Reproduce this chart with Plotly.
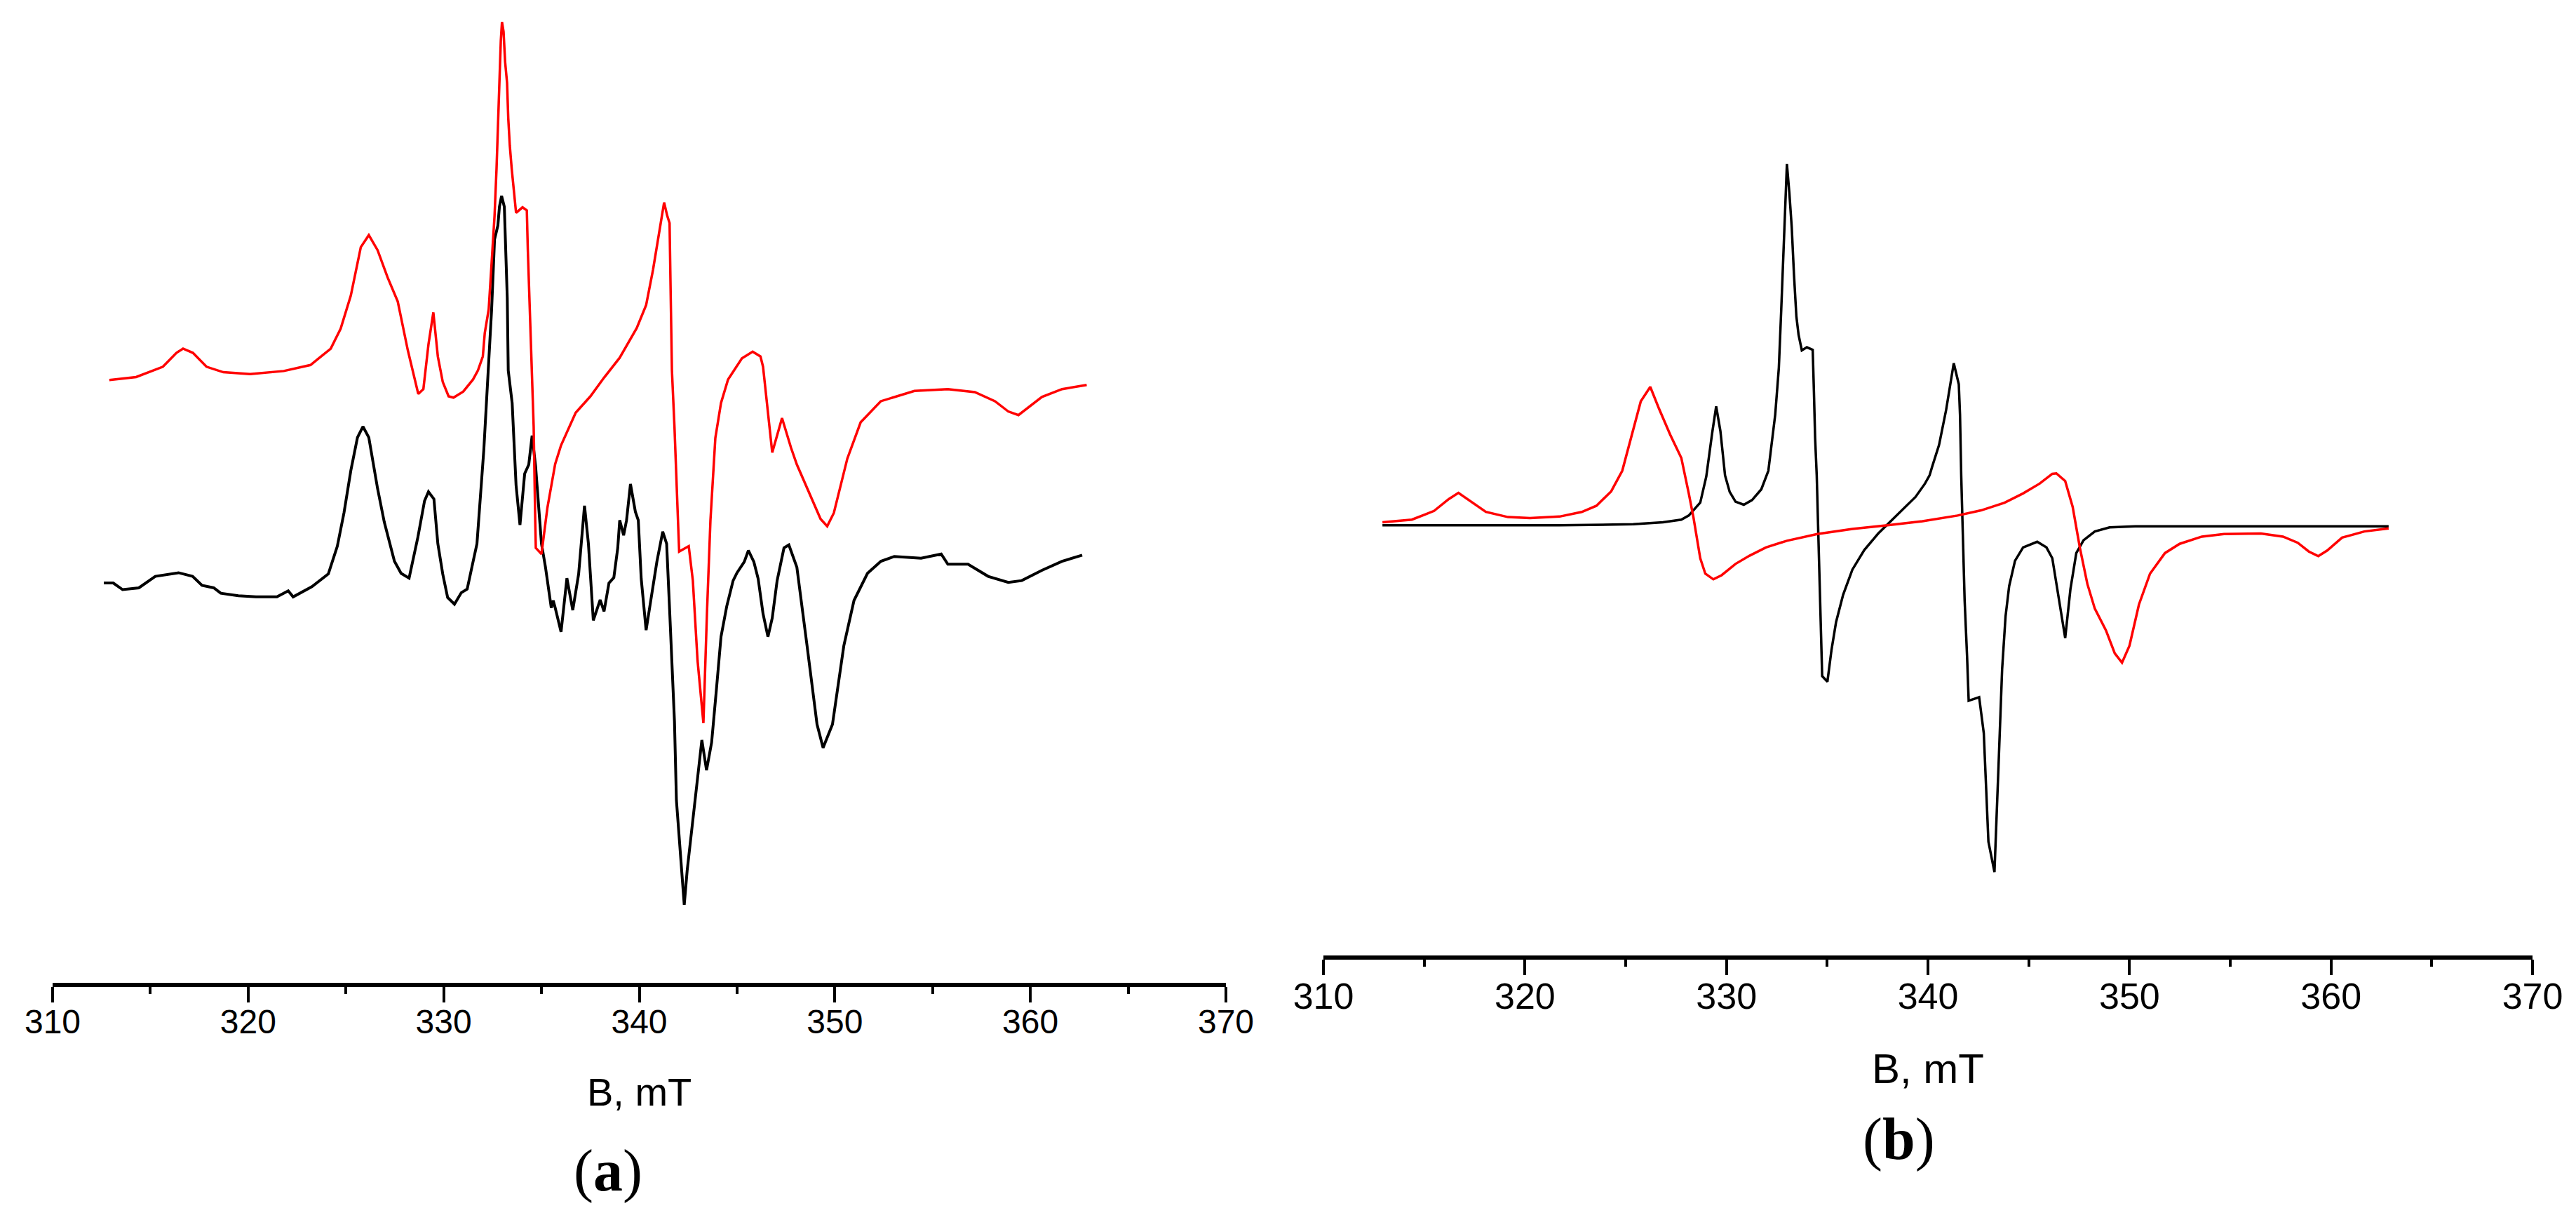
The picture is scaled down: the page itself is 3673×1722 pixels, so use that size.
import plotly.graph_objects as go

# ---------------- panel (a): experimental (black) and simulated (red) spectra
field_a_exp = [312.62, 313.1, 313.58, 314.41, 315.25, 315.96, 316.44, 317.16, 317.64, 318.24,
               318.6, 319.5, 320.4, 321.47, 322.05, 322.3, 323.26, 324.1, 324.56, 324.9,
               325.25, 325.59, 325.87, 326.17,
               326.62, 326.96, 327.48, 327.82, 328.23, 328.68, 329.02, 329.22, 329.5, 329.7,
               329.95, 330.2, 330.55, 330.9, 331.2, 331.5, 331.7, 332.05, 332.3, 332.45,
               332.6, 332.77, 332.85, 332.96, 333.1, 333.18, 333.25, 333.3, 333.5, 333.7,
               333.9, 334.14, 334.35, 334.52, 334.7, 335.0, 335.2, 335.5, 335.6, 335.7,
               336.0, 336.3, 336.6, 336.9, 337.2, 337.4, 337.65, 338.0, 338.2, 338.45,
               338.7, 338.9, 339.0, 339.2, 339.35, 339.55, 339.8, 339.95, 340.1, 340.35,
               340.6, 340.9, 341.2, 341.4, 341.55, 341.67, 341.8, 341.9, 342.15, 342.3,
               342.45, 342.74, 342.98, 343.2, 343.44, 343.7, 343.94, 344.18, 344.47, 344.8,
               345.0, 345.37, 345.58, 345.86, 346.08, 346.33, 346.58, 346.8, 347.05, 347.4,
               347.65, 348.06, 348.58, 349.09, 349.4, 349.88, 350.46, 350.98, 351.67, 352.36,
               353.04, 354.41, 355.44, 355.78, 356.81, 357.84, 358.87, 359.56, 360.59, 361.62,
               362.65]
signal_a_exp = [14, 14, 3, 6, 25, 29, 31, 25, 10, 6,
                -3, -7, -9, -9, 1, -9, 8, 29, 75, 130,
                200, 255, 273, 255,
                170, 115, 50, 30, 22, 90, 150, 165, 153, 79,
                29, -10, -21, -2, 4, 49, 79, 234, 380, 467,
                583, 606, 637, 655, 637, 564, 486, 366, 312, 176,
                110, 195, 210, 258, 207, 79, 41, -27, -15, -27,
                -67, 22, -31, 29, 142, 79, -48, -14, -33, 14,
                23, 72, 118, 93, 118, 178, 132, 118, 21, -64,
                -14, 49, 99, 79, -29, -114, -215, -346, -462, -519,
                -462, -377, -300, -246, -296, -250, -164, -75, -25, 18,
                31, 49, 68, 49, 21, -37, -75, -44, 18, 72,
                77, 40, -90, -220, -259, -220, -90, -15, 30, 50,
                58, 55, 62, 45, 45, 25, 15, 18, 35, 50,
                60]

field_a_sim = [312.9, 314.27, 315.64, 316.33, 316.67, 317.18, 317.87, 318.73, 320.1, 321.82,
               323.19, 324.22, 324.73, 325.25, 325.76, 326.17, 326.62, 327.13, 327.65, 328.16,
               328.7, 328.96, 329.22, 329.47, 329.7, 329.95, 330.25, 330.5, 331.0, 331.5,
               331.75, 332.0, 332.1, 332.3, 332.45, 332.6, 332.7, 332.77, 332.85, 332.92,
               332.98, 333.06, 333.14, 333.24, 333.3, 333.38, 333.48, 333.6, 333.7, 334.03,
               334.25, 334.3, 334.4, 334.5, 334.6, 334.68, 334.71, 335.0, 335.3, 335.7,
               336.0, 336.75, 337.5, 338.2, 339.0, 339.87, 340.35, 340.7, 341.0, 341.2,
               341.27, 341.43, 341.55, 341.6, 341.67, 341.8, 342.04, 342.53, 342.74, 342.98,
               343.28, 343.46, 343.64, 343.89, 344.18, 344.54, 345.0, 345.25, 345.8, 346.2,
               346.33, 346.54, 346.8, 347.3, 347.76, 348.06, 348.75, 349.27, 349.61, 349.95,
               350.64, 351.32, 352.35, 354.07, 355.78, 357.16, 358.19, 358.87, 359.39, 359.9,
               360.59, 361.62, 362.88]
signal_a_sim = [350, 355, 372, 395, 402, 395, 372, 363, 360, 365,
                375, 402, 435, 490, 570, 590, 565, 520, 480, 400,
                327, 335, 409, 462, 389, 347, 323, 321, 331, 351,
                366, 389, 428, 467, 544, 622, 699, 769, 838, 912,
                943, 927, 877, 842, 784, 738, 699, 660, 627, 636,
                631, 567, 467, 366, 273, 118, 72, 62, 138, 211,
                242, 296, 323, 354, 387, 436, 474, 532, 590, 630,
                644, 622, 610, 505, 366, 273, 66, 75, 18, -114,
                -218, -37, 118, 254, 312, 351, 374, 386, 397, 389,
                372, 312, 230, 287, 238, 210, 160, 120, 108, 130,
                220, 280, 315, 332, 335, 330, 315, 298, 292, 305,
                322, 335, 342]

# ---------------- panel (b): two simulated components
field_b_1 = [312.93, 321.7, 325.38, 326.85, 327.76, 328.13, 328.7, 329.0, 329.29, 329.49,
             329.7, 329.93, 330.16, 330.45, 330.86, 331.27, 331.73, 332.08, 332.42, 332.6,
             332.72, 332.83, 332.9, 333.0, 333.12, 333.24, 333.35, 333.47, 333.58, 333.74,
             333.99, 334.28, 334.34, 334.4, 334.48, 334.57, 334.69, 334.75, 335.01, 335.21,
             335.44, 335.79, 336.25, 336.84, 337.53, 338.1, 338.8, 339.38, 339.85, 340.08,
             340.2, 340.55, 340.9, 341.28, 341.53, 341.59, 341.65, 341.71, 341.82, 341.94,
             342.02, 342.54, 342.77, 343.0, 343.3, 343.5, 343.68, 343.85, 344.03, 344.32,
             344.72, 345.42, 345.88, 346.17, 346.55, 346.81, 347.07, 347.36, 347.72, 348.28,
             349.01, 350.29, 362.86]
signal_b_1 = [0, 0, 2, 6, 11, 19, 44, 95, 179, 231,
              183, 97, 65, 46, 40, 49, 70, 106, 215, 306,
              420, 533, 624, 702, 647, 579, 488, 406, 370, 340,
              346, 341, 261, 170, 97, -37, -210, -293, -304, -243,
              -188, -135, -86, -48, -16, 6, 33, 55, 81, 97,
              113, 156, 224, 315, 274, 215, 97, 16, -146, -254,
              -341, -334, -404, -615, -674, -469, -280, -177, -118, -69,
              -43, -32, -43, -64, -154, -219, -124, -54, -29, -12,
              -4, -2, -2]

field_b_2 = [312.93, 314.39, 315.49, 316.22, 316.7, 317.14, 318.06, 319.16, 320.25, 321.72,
             322.82, 323.55, 324.28, 324.83, 325.31, 325.75, 326.22, 326.66, 327.21, 327.76,
             328.13, 328.36, 328.7, 328.95, 329.35, 329.76, 330.45, 331.15, 331.96, 333.0,
             334.51, 336.25, 337.99, 339.73, 341.47, 342.63, 343.8, 344.72, 345.54, 346.17,
             346.37, 346.81, 347.18, 347.54, 347.91, 348.28, 348.83, 349.27, 349.63, 350.0,
             350.47, 351.02, 351.76, 352.49, 353.59, 354.69, 356.52, 357.62, 358.35, 358.9,
             359.37, 359.81, 360.55, 361.65, 362.86]
signal_b_2 = [6, 11, 28, 51, 63, 51, 26, 16, 14, 17,
              26, 38, 66, 106, 176, 241, 269, 226, 176, 131,
              62, 16, -64, -94, -105, -97, -75, -59, -43, -30,
              -17, -7, 0, 8, 19, 29, 44, 62, 81, 100,
              101, 86, 36, -44, -114, -162, -204, -249, -267, -234,
              -154, -94, -54, -36, -22, -17, -16, -22, -34, -51,
              -60, -49, -24, -12, -6]

W, H = 3673, 1722

fig = go.Figure()
fig.add_trace(go.Scatter(x=field_a_exp, y=signal_a_exp, mode="lines",
                         line=dict(color="black", width=4), xaxis="x", yaxis="y"))
fig.add_trace(go.Scatter(x=field_a_sim, y=signal_a_sim, mode="lines",
                         line=dict(color="#ff0000", width=3.5), xaxis="x", yaxis="y"))
fig.add_trace(go.Scatter(x=field_b_1, y=signal_b_1, mode="lines",
                         line=dict(color="black", width=3.5), xaxis="x2", yaxis="y2"))
fig.add_trace(go.Scatter(x=field_b_2, y=signal_b_2, mode="lines",
                         line=dict(color="#ff0000", width=3.5), xaxis="x2", yaxis="y2"))

xax = dict(range=[310, 370], dtick=10, tick0=310, ticks="outside", ticklen=22, tickwidth=4,
           tickcolor="black", showline=True, linewidth=6, linecolor="black",
           showgrid=False, zeroline=False, automargin=False, ticklabelstandoff=-14,
           minor=dict(dtick=5, ticks="outside", ticklen=10, tickwidth=4, tickcolor="black"))

fig.update_layout(
    template="none",
    width=W, height=H,
    margin=dict(l=0, r=0, t=0, b=0, pad=0, autoexpand=False),
    paper_bgcolor="white", plot_bgcolor="white",
    showlegend=False,
    font=dict(family="Liberation Sans, Arial", color="black"),
    xaxis=dict(xax, domain=[67 / W, 1740 / W], anchor="y",
               tickfont=dict(size=48, family="Liberation Sans, Arial")),
    yaxis=dict(domain=[1 - 1393 / H, 1], range=[-648, 970], visible=False, anchor="x",
               automargin=False),
    xaxis2=dict(xax, domain=[1879 / W, 3603 / W], anchor="y2",
                tickfont=dict(size=52, family="Liberation Sans, Arial")),
    yaxis2=dict(domain=[1 - 1354 / H, 1], range=[-836, 1010], visible=False, anchor="x2",
                automargin=False),
)

fig.add_annotation(text="B, mT", x=903 / W, y=1 - 1548 / H, xref="paper", yref="paper",
                   showarrow=False, font=dict(size=56, family="Liberation Sans, Arial"),
                   xanchor="center", yanchor="middle")
fig.add_annotation(text="(<b>a</b>)", x=859 / W, y=1 - 1661 / H, xref="paper", yref="paper",
                   showarrow=False, font=dict(size=84, family="Liberation Serif, Times New Roman"),
                   xanchor="center", yanchor="middle")
fig.add_annotation(text="B, mT", x=2741 / W, y=1 - 1515 / H, xref="paper", yref="paper",
                   showarrow=False, font=dict(size=60, family="Liberation Sans, Arial"),
                   xanchor="center", yanchor="middle")
fig.add_annotation(text="(<b>b</b>)", x=2699 / W, y=1 - 1616 / H, xref="paper", yref="paper",
                   showarrow=False, font=dict(size=84, family="Liberation Serif, Times New Roman"),
                   xanchor="center", yanchor="middle")

fig.write_html("out.html")
